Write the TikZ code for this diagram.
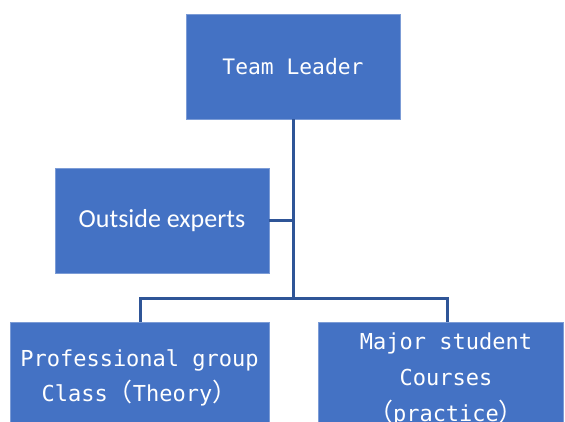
\documentclass[tikz,border=0pt]{standalone}
\usepackage{fontspec}
\newfontfamily\monofnt{DejaVu Sans Mono}
\newfontfamily\cjk{Noto Sans CJK SC}
\newfontfamily\carl{Carlito}
\definecolor{boxblue}{HTML}{4472C4}
\definecolor{lineblue}{HTML}{2F5597}
\newcommand{\wparl}{{\cjk\fontsize{25}{30}\selectfont （}}
\newcommand{\wparr}{{\cjk\fontsize{25}{30}\selectfont ）}}
\begin{document}
\begin{tikzpicture}[x=1pt,y=-1pt,
  orgbox/.style={fill=boxblue, draw=boxblue!70!white, line width=0.6pt, text=white, inner sep=0pt, align=center},
  conn/.style={draw=lineblue, line width=3pt}]
\useasboundingbox (0,0) rectangle (565,421);
\node[orgbox, minimum width=214pt, minimum height=105pt, font=\monofnt\fontsize{21.3}{26}\selectfont] (tl) at (293,66.5) {Team Leader};
\node[orgbox, minimum width=214pt, minimum height=105pt, font=\carl\fontsize{26}{30}\selectfont] (oe) at (162,220.5) {Outside experts};
\node[orgbox, minimum width=259pt, minimum height=112pt, font=\monofnt\fontsize{22}{35.5}\selectfont] (pg) at (139.5,378) {Professional group\\Class\wparl Theory\wparr};
\node[orgbox, minimum width=245pt, minimum height=115pt, font=\monofnt\fontsize{22}{36}\selectfont] (ms) at (440.5,379.5) {\hspace*{11pt}Major student\\\hspace*{11pt}Courses\\\hspace*{11pt}\wparl practice\wparr};
\coordinate (j) at (293,298);
\coordinate (jl) at (140,298);
\coordinate (jr) at (447,298);
\draw[conn] (tl.south) -- (j);
\draw[conn] (oe.east) -- (oe.east -| j);
\draw[conn] (jl |- pg.north) -- (jl) -- (jr) -- (jr |- ms.north);
\end{tikzpicture}
\end{document}
